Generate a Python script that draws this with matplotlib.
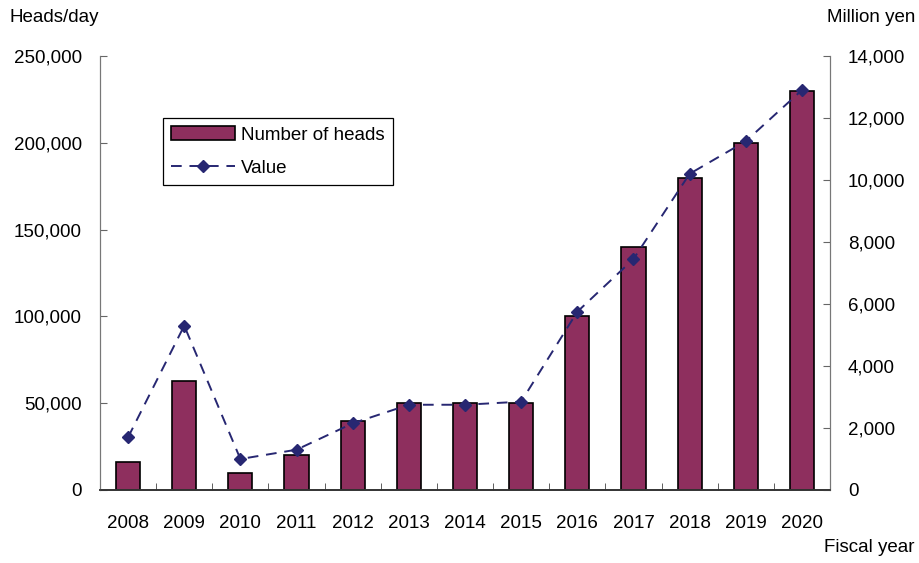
import numpy as np
import matplotlib.pyplot as plt
from matplotlib.ticker import FuncFormatter, FixedLocator

plt.rcParams['font.family'] = ['Liberation Sans', 'DejaVu Sans']
plt.rcParams['font.size'] = 13.5

years = ['2008', '2009', '2010', '2011', '2012', '2013', '2014',
         '2015', '2016', '2017', '2018', '2019', '2020']
heads = [16000, 63000, 10000, 20000, 40000, 50000, 50000,
         50000, 100000, 140000, 180000, 200000, 230000]
value = [1700, 5300, 1000, 1300, 2150, 2750, 2750,
         2850, 5750, 7450, 10200, 11250, 12900]

bar_color = '#8E2F5E'
line_color = '#272772'

fig = plt.figure(figsize=(9.2, 5.63), dpi=100)
ax = fig.add_axes([100 / 920, 1 - 490 / 563, 730 / 920, 434 / 563])
ax2 = ax.twinx()

x = np.arange(len(years))
b = ax.bar(x, heads, width=0.43, color=bar_color, edgecolor='black',
           linewidth=1.2, label='Number of heads', zorder=2)
l, = ax2.plot(x, value, color=line_color, linestyle=(0, (5.5, 4)), linewidth=1.4,
              marker='D', markersize=6.5, label='Value', zorder=3)

ax.set_xlim(-0.5, len(years) - 0.5)
ax.set_ylim(0, 250000)
ax2.set_ylim(0, 14000)
ax.set_yticks(np.arange(0, 250001, 50000))
ax2.set_yticks(np.arange(0, 14001, 2000))
fmt = FuncFormatter(lambda v, p: f'{int(v):,}')
ax.yaxis.set_major_formatter(fmt)
ax2.yaxis.set_major_formatter(fmt)

ax.set_xticks(x)
ax.set_xticklabels(years)
ax.xaxis.set_minor_locator(FixedLocator(np.arange(0.5, len(years) - 1, 1.0)))
ax.tick_params(axis='x', which='major', length=0, pad=18)
ax.tick_params(axis='x', which='minor', direction='in', length=5, color='#444444')
ax.tick_params(axis='y', direction='in', length=5, color='#666666', pad=13)
ax2.tick_params(axis='y', direction='in', length=5, color='#666666', pad=13)

for a in (ax, ax2):
    a.spines['top'].set_visible(False)
    a.spines['left'].set_color('#777777')
    a.spines['right'].set_color('#777777')
    a.spines['bottom'].set_color('#333333')
    a.spines['bottom'].set_linewidth(1.2)

ax.set_zorder(ax2.get_zorder() - 1)
ax2.patch.set_visible(False)

leg = ax2.legend([b, l], ['Number of heads', 'Value'], loc='upper left',
                 bbox_to_anchor=(63 / 730, 1 - 62 / 434), fancybox=False,
                 edgecolor='black', framealpha=1, borderpad=0.45,
                 handlelength=3.4, handletextpad=0.3, labelspacing=0.85,
                 borderaxespad=0)
leg.get_frame().set_linewidth(0.9)

fig.text(10 / 920, 1 - 17 / 563, 'Heads/day', ha='left', va='center')
fig.text(915 / 920, 1 - 17 / 563, 'Million yen', ha='right', va='center')
fig.text(915 / 920, 1 - 548 / 563, 'Fiscal year', ha='right', va='center')

fig.savefig('out.png', dpi=100)
